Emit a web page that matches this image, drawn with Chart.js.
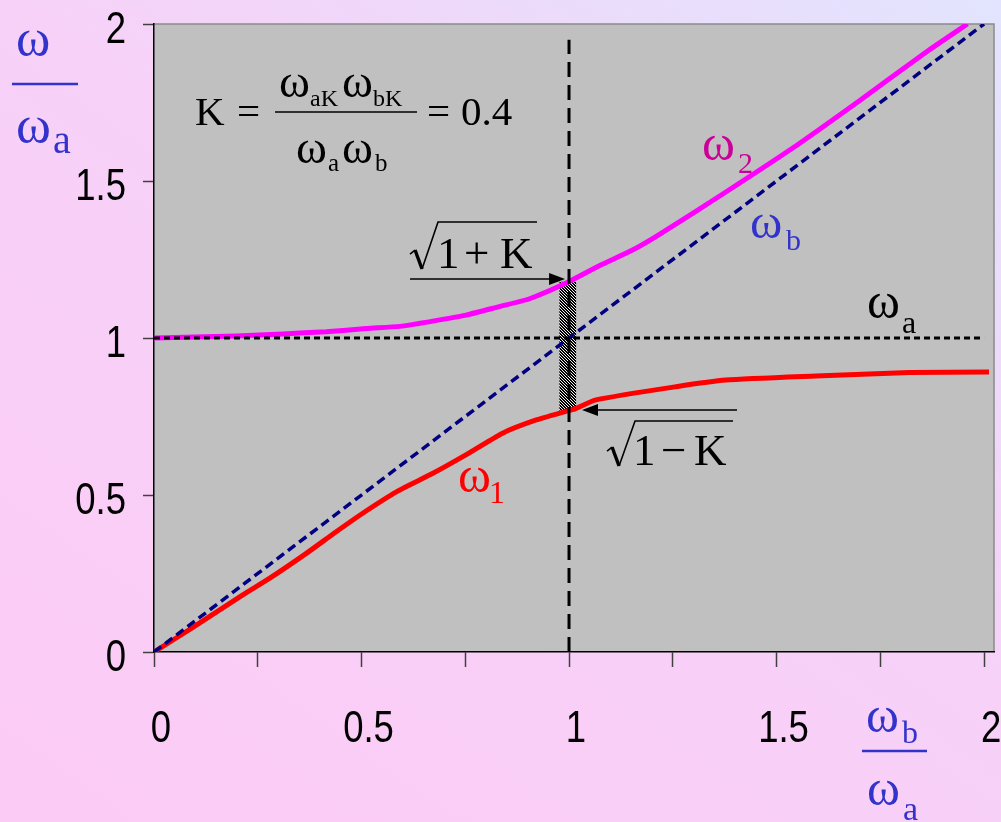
<!DOCTYPE html>
<html><head><meta charset="utf-8">
<script src="https://cdn.jsdelivr.net/npm/chart.js@4.4.1/dist/chart.umd.min.js"></script>
<style>
html,body{margin:0;padding:0;width:1001px;height:822px;overflow:hidden;}
body{background:linear-gradient(35deg,#fccbf5 0%,#f7d1f8 55%,#e2e4fe 100%);}
canvas{display:block;}
</style></head><body>
<canvas id="c" width="1001" height="822"></canvas>
<script>
// ---- data ----
const xTickValues = [0,0.25,0.5,0.75,1,1.25,1.5,1.75,2];
const xTickLabels = ['0','','0.5','','1','','1.5','','2'];
const yTickValues = [0,0.5,1,1.5,2];
const yTickLabels = ['0','0.5','1','1.5','2'];

const omega1X = [0,0.09,0.214,0.279,0.367,0.439,0.503,0.584,0.672,0.744,0.84,0.921,0.997,1.017,1.065,1.258,1.378,1.595,1.82,2.012];
const omega1Y = [0,0.075,0.182,0.235,0.314,0.383,0.442,0.51,0.569,0.622,0.697,0.739,0.768,0.776,0.803,0.845,0.866,0.879,0.89,0.892];

const omega2X = [0,0.198,0.31,0.415,0.511,0.592,0.632,0.752,0.832,0.905,0.993,1.073,1.153,1.218,1.378,1.539,1.699,1.86,1.96];
const omega2Y = [1.0,1.006,1.013,1.02,1.03,1.037,1.045,1.073,1.10,1.125,1.175,1.23,1.28,1.33,1.465,1.605,1.755,1.91,2.0];

const omegaBX = [0,2];
const omegaBY = [0,2];
const omegaAX = [0,2];
const omegaAY = [1,1];
const resonanceX = [1,1];
const resonanceY = [0,1.95];
const gapX = 0.997;
const gapLow = 0.768;
const gapHigh = 1.178;

const X_MIN = 0, X_MAX = 2.024, Y_MIN = 0, Y_MAX = 2;

// ---- helpers ----
const pts = (xs, ys) => xs.map((x,i)=>({x:x, y:ys[i]}));
function hatchPattern(){
  const pc = document.createElement('canvas'); pc.width=3; pc.height=3;
  const g = pc.getContext('2d');
  g.fillStyle='#000'; g.fillRect(0,0,3,3);
  g.fillStyle='#f0f0f0';
  for(let i=0;i<3;i++) g.fillRect(i,i,1,1);
  return g.createPattern(pc,'repeat');
}
const SERIF = '"Liberation Serif","Times New Roman",serif';
const SANS = '"Liberation Sans",Arial,sans-serif';
function T(ctx, s, x, y, size, color){
  ctx.font = size+'px '+SERIF; ctx.fillStyle=color; ctx.textAlign='left'; ctx.textBaseline='alphabetic';
  ctx.fillText(s, x, y);
}
function narrow(ctx, s, x, y, align){
  ctx.save(); ctx.translate(x, y); ctx.scale(0.83, 1);
  ctx.font = '44px '+SANS; ctx.fillStyle='#000'; ctx.textAlign=align; ctx.textBaseline='alphabetic';
  ctx.fillText(s, 0, 0); ctx.restore();
}
function arrow(ctx, x0, x1, y){
  ctx.save(); ctx.strokeStyle='#000'; ctx.fillStyle='#000'; ctx.lineWidth=1.6; ctx.setLineDash([]);
  const dir = x1 > x0 ? 1 : -1;
  ctx.beginPath(); ctx.moveTo(x0,y); ctx.lineTo(x1-dir*12,y); ctx.stroke();
  ctx.beginPath(); ctx.moveTo(x1,y); ctx.lineTo(x1-dir*16,y-6); ctx.lineTo(x1-dir*16,y+6); ctx.closePath(); ctx.fill();
  ctx.restore();
}
function radical(ctx, x, y, up, len){
  ctx.save(); ctx.strokeStyle='#000'; ctx.lineCap='butt'; ctx.lineJoin='miter';
  ctx.lineWidth=1.6;
  ctx.beginPath(); ctx.moveTo(x, y-14); ctx.lineTo(x+5, y-18); ctx.stroke();
  ctx.lineWidth=3.4;
  ctx.beginPath(); ctx.moveTo(x+5, y-18); ctx.lineTo(x+12, y+1); ctx.stroke();
  ctx.lineWidth=1.6;
  ctx.beginPath(); ctx.moveTo(x+12, y+1); ctx.lineTo(x+28, y-up); ctx.lineTo(x+len, y-up); ctx.stroke();
  ctx.restore();
}

const bgPlugin = {
  id:'bg',
  beforeDraw(chart){
    const {ctx, chartArea:a} = chart;
    ctx.save();
    ctx.fillStyle='#c0c0c0';
    ctx.fillRect(a.left, a.top, a.right-a.left, a.bottom-a.top);
    ctx.strokeStyle='#8a8a8a'; ctx.lineWidth=1.5;
    ctx.beginPath(); ctx.moveTo(a.left, a.top); ctx.lineTo(a.right, a.top); ctx.lineTo(a.right, a.bottom); ctx.stroke();
    ctx.restore();
  }
};

const annPlugin = {
  id:'ann',
  afterDraw(chart){
    const ctx = chart.ctx, xs = chart.scales.x, ys = chart.scales.y;
    const P = (x,y)=>[xs.getPixelForValue(x), ys.getPixelForValue(y)];
    ctx.save();
    // tick labels (condensed sans, positioned by the scales)
    xs.ticks.forEach((t,i)=>{ const l = xTickLabels[i]; if(l) narrow(ctx, l, xs.getPixelForValue(t.value)+7, ys.bottom+90, 'center'); });
    ys.ticks.forEach((t,i)=>{ const l = yTickLabels[i]; if(l) narrow(ctx, l, xs.left-28, ys.getPixelForValue(t.value)+19, 'right'); });
    // formula
    let [fx, fy] = P(0.0988, 1.6783);
    T(ctx,'K',fx,fy,41,'#000');
    T(ctx,'=',fx+42,fy,41,'#000');
    ctx.strokeStyle='#000'; ctx.lineWidth=1.6;
    ctx.beginPath(); ctx.moveTo(fx+80, fy-13); ctx.lineTo(fx+222, fy-13); ctx.stroke();
    T(ctx,'\u03c9',fx+84,fy-28,47,'#000'); T(ctx,'aK',fx+115,fy-19,24,'#000');
    T(ctx,'\u03c9',fx+147,fy-28,47,'#000'); T(ctx,'bK',fx+178,fy-19,24,'#000');
    T(ctx,'\u03c9',fx+101,fy+38,47,'#000'); T(ctx,'a',fx+133,fy+46,25,'#000');
    T(ctx,'\u03c9',fx+147,fy+38,47,'#000'); T(ctx,'b',fx+180,fy+46,25,'#000');
    T(ctx,'=',fx+232,fy,41,'#000');
    T(ctx,'0.4',fx+266,fy,41,'#000');
    // sqrt(1+K)
    let [ax0, ay] = P(0.6169, 1.1879); let [ax1] = P(0.9904, 1.1879);
    arrow(ctx, ax0, ax1, ay);
    let [sx, sy] = P(0.6169, 1.2229);
    radical(ctx, sx, sy, 46, 127);
    T(ctx,'1',sx+27,sy,45,'#000'); T(ctx,'+',sx+54,sy,45,'#000'); T(ctx,'K',sx+90,sy,45,'#000');
    // sqrt(1-K)
    let [bx0, by] = P(1.4048, 0.7707); let [bx1] = P(1.0313, 0.7707);
    arrow(ctx, bx0, bx1, by);
    let [tx, ty] = P(1.0916, 0.5955);
    radical(ctx, tx, ty, 44, 126);
    T(ctx,'1',tx+26,ty,45,'#000'); T(ctx,'\u2212',tx+54,ty,45,'#000'); T(ctx,'K',tx+87,ty,45,'#000');
    // curve labels
    let [l2x,l2y] = P(1.3205,1.5669);
    T(ctx,'\u03c9',l2x,l2y,50,'#cc0099'); T(ctx,'2',l2x+36,l2y+13,30,'#cc0099');
    let [lbx,lby] = P(1.4361,1.3185);
    T(ctx,'\u03c9',lbx,lby,49,'#3333cc'); T(ctx,'b',lbx+36,lby+12,30,'#3333cc');
    let [lax,lay] = P(1.7181,1.0637);
    T(ctx,'\u03c9',lax,lay,50,'#000'); T(ctx,'a',lax+35,lay+15,32,'#000');
    let [l1x,l1y] = P(0.7325,0.5096);
    T(ctx,'\u03c9',l1x,l1y,50,'#ff0000'); T(ctx,'1',l1x+31,l1y+11,32,'#ff0000');
    // axis titles
    const BL='#3333cc';
    T(ctx,'\u03c9',16,55,52,BL);
    ctx.strokeStyle=BL; ctx.lineWidth=2.5;
    ctx.beginPath(); ctx.moveTo(12,84); ctx.lineTo(78,84); ctx.stroke();
    T(ctx,'\u03c9',16,142,53,BL); T(ctx,'a',53,153,40,BL);
    T(ctx,'\u03c9',866,732,50,BL); T(ctx,'b',902,743,32,BL);
    ctx.beginPath(); ctx.moveTo(862,751); ctx.lineTo(927,751); ctx.stroke();
    T(ctx,'\u03c9',867,805,50,BL); T(ctx,'a',903,820,34,BL);
    ctx.restore();
  }
};

new Chart(document.getElementById('c'), {
  type:'line',
  data:{
    datasets:[
      {data:pts(resonanceX,resonanceY), borderColor:'#000', borderWidth:3, borderDash:[15,8], pointRadius:0, fill:false},
      {data:pts(omegaAX,omegaAY), borderColor:'#000', borderWidth:3, borderDash:[6,4], pointRadius:0, fill:false},
      {data:pts(omegaBX,omegaBY), borderColor:'#000080', borderWidth:3.5, borderDash:[9,5], pointRadius:0, fill:false},
      {data:pts(omega2X,omega2Y), borderColor:'#ff00ff', borderWidth:5, pointRadius:0, fill:false, tension:0.2},
      {data:pts(omega1X,omega1Y), borderColor:'#ff0000', borderWidth:5, pointRadius:0, fill:false, tension:0.2},
      {type:'bar', data:[{x:gapX, y:[gapLow,gapHigh]}], backgroundColor:hatchPattern(), borderWidth:0, barThickness:16}
    ]
  },
  options:{
    responsive:false, animation:false,
    layout:{padding:{left:0, right:7, top:24, bottom:0}},
    plugins:{legend:{display:false}, tooltip:{enabled:false}},
    scales:{
      x:{type:'linear', min:X_MIN, max:X_MAX, offset:false,
        afterBuildTicks(s){ s.ticks = xTickValues.map(v=>({value:v})); },
        afterFit(s){ s.height = 170; s.paddingLeft = 0; s.paddingRight = 0; s.paddingTop = 0; s.paddingBottom = 0; },
        grid:{offset:false, drawOnChartArea:false, drawTicks:true, tickLength:15, tickColor:'#404040', tickWidth:1.5},
        border:{display:true, color:'#000', width:1.5},
        ticks:{display:false, autoSkip:false, maxRotation:0}
      },
      y:{type:'linear', min:Y_MIN, max:Y_MAX,
        afterBuildTicks(s){ s.ticks = yTickValues.map(v=>({value:v})); },
        afterFit(s){ s.width = 154; s.paddingLeft = 0; s.paddingRight = 0; s.paddingTop = 0; s.paddingBottom = 0; },
        grid:{drawOnChartArea:false, drawTicks:true, tickLength:11, tickColor:'#404040', tickWidth:1.5},
        border:{display:true, color:'#000', width:1.5},
        ticks:{display:false, autoSkip:false}
      }
    }
  },
  plugins:[bgPlugin, annPlugin]
});
</script>
</body></html>
